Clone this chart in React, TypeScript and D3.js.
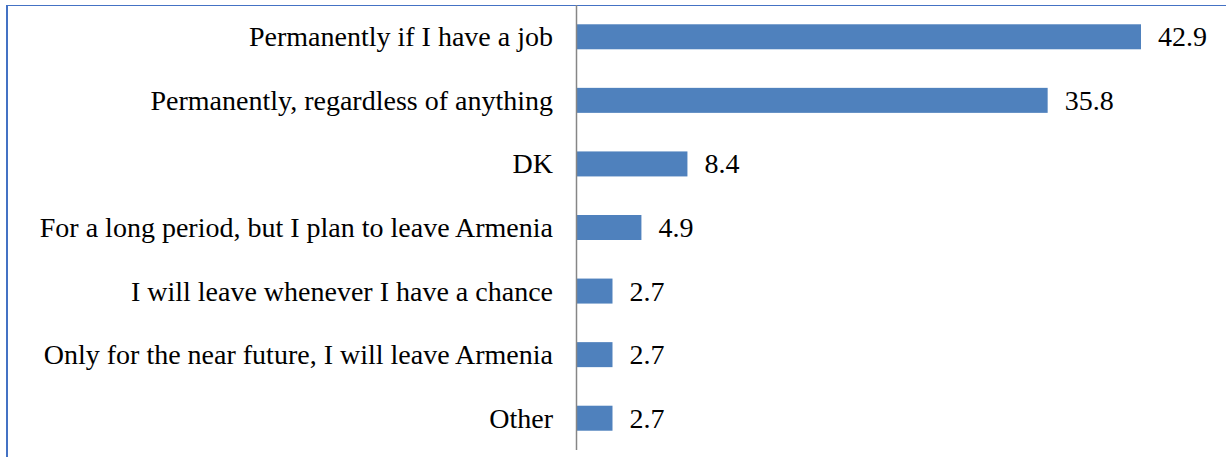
import React from "react";
import * as d3 from "d3";

const categories = [
  "Permanently if I have a job",
  "Permanently, regardless of anything",
  "DK",
  "For a long period, but I plan to leave Armenia",
  "I will leave whenever I have a chance",
  "Only for the near future, I will leave Armenia",
  "Other",
];
const values = [42.9, 35.8, 8.4, 4.9, 2.7, 2.7, 2.7];

const W = 1226;
const H = 457;

export default function App() {
  const x = d3.scaleLinear().domain([0, 42.9]).range([577, 1141]);
  const y = d3
    .scaleBand<string>()
    .domain(categories)
    .range([5, 450])
    .paddingInner(0.6)
    .paddingOuter(0.3);
  const textStyle = {
    fontFamily: "'Times New Roman', 'Liberation Serif', serif",
    fontSize: "28px",
  };
  return (
    <svg
      width={W}
      height={H}
      style={{ position: "absolute", left: 0, top: 0, background: "#fff" }}
    >
      <line x1={7} x2={7} y1={5} y2={H} stroke="#4472C4" strokeWidth={2} />
      <line x1={6} x2={W} y1={5.5} y2={5.5} stroke="#4472C4" strokeWidth={1} />
      {categories.map((c, i) => {
        const yc = (y(c) as number) + y.bandwidth() / 2;
        return (
          <g key={c}>
            <rect
              x={x(0)}
              y={yc - 12.5}
              width={x(values[i]) - x(0)}
              height={25}
              fill="#4F81BD"
            />
            <text x={553} y={yc + 9.5} textAnchor="end" style={textStyle} fill="#000">
              {c}
            </text>
            <text x={x(values[i]) + 17} y={yc + 9.5} style={textStyle} fill="#000">
              {values[i].toFixed(1)}
            </text>
          </g>
        );
      })}
      <line x1={576.5} x2={576.5} y1={5} y2={450} stroke="#868686" strokeWidth={1.5} />
    </svg>
  );
}
